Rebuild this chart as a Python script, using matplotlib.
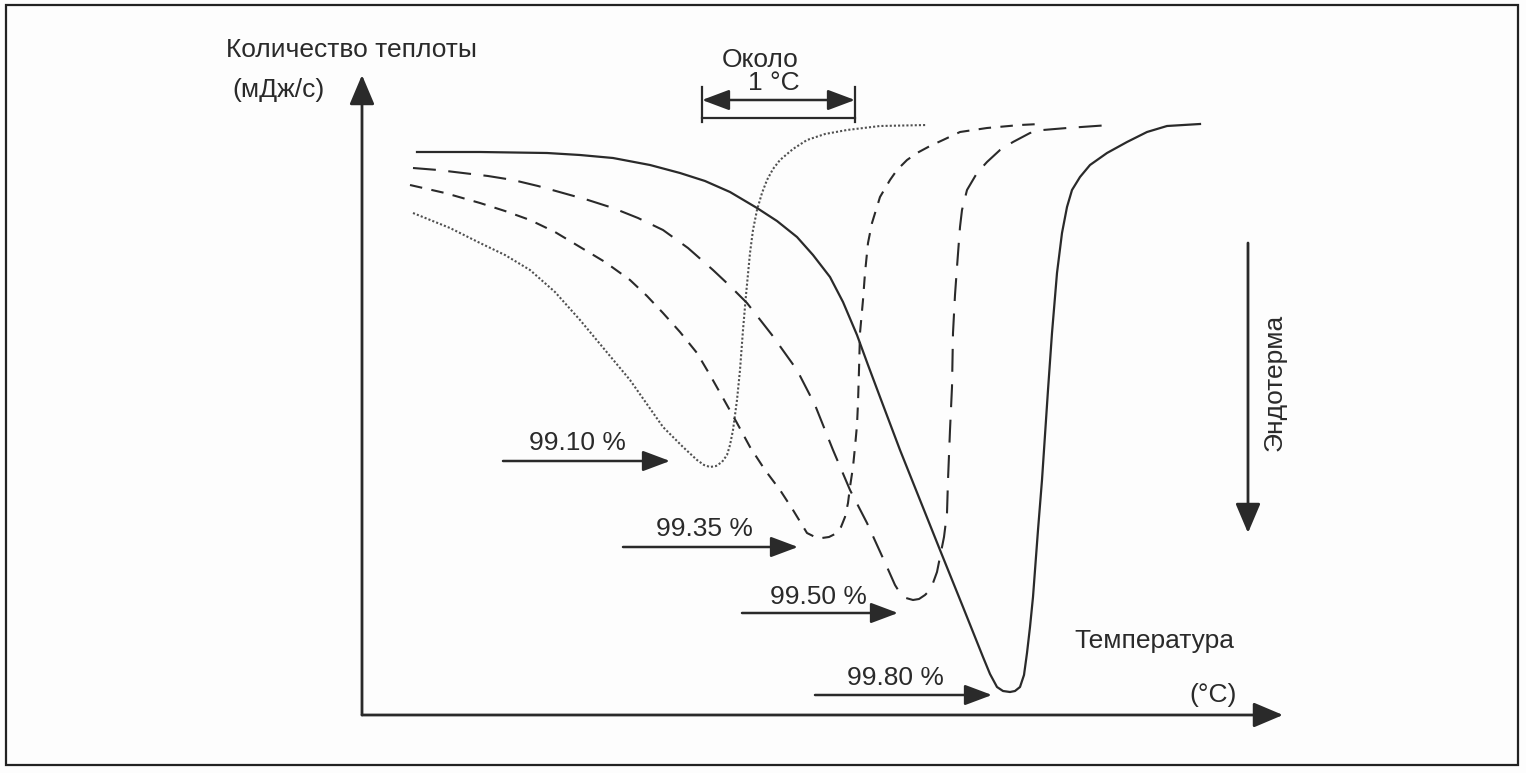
import matplotlib
matplotlib.use("Agg")
import matplotlib.pyplot as plt
from matplotlib.patches import Rectangle

plt.rcParams['font.family'] = ['Liberation Sans', 'DejaVu Sans']

# schematic DSC melting curves (arbitrary units: temperature, heat flow)
t_9910 = [5.1, 8.8, 11.8, 14.3, 16.8, 19.3, 21.8, 24.3, 26.8, 30.1,
          32.1, 33.5, 34.2, 34.8, 35.4, 36.0, 36.5, 36.8, 37.1, 37.5,
          37.8, 38.1, 38.4, 38.8, 39.1, 39.5, 40.0, 40.5, 41.1, 41.8,
          43.1, 44.5, 46.3, 48.5, 51.8, 56.5]
q_9910 = [50.2, 48.7, 47.2, 46.0, 44.5, 42.3, 39.5, 36.5, 33.5, 28.8,
          26.8, 25.5, 25.0, 24.8, 24.9, 25.3, 26.0, 27.0, 28.5, 31.5,
          34.5, 38.5, 42.0, 46.2, 48.5, 50.5, 52.2, 53.5, 54.6, 55.5,
          56.6, 57.5, 58.1, 58.5, 58.9, 59.0]

t_9935 = [4.8, 8.3, 11.8, 14.3, 16.8, 19.3, 21.8, 24.3, 26.8, 28.5,
          30.1, 31.8, 33.5, 34.8, 36.1, 37.5, 38.8, 40.3, 41.8, 43.1,
          44.5, 45.3, 46.0, 46.7, 47.3, 47.9, 48.3, 48.6, 48.8, 49.1,
          49.3, 49.5, 49.6, 49.7, 49.8, 50.1, 50.3, 50.6, 51.0, 51.8,
          52.8, 53.5, 54.5, 55.5, 56.8, 58.1, 59.8, 62.5, 65.8, 67.8]
q_9935 = [53.0, 52.2, 51.2, 50.4, 49.5, 48.3, 46.8, 45.3, 43.5, 41.9,
          40.2, 38.3, 36.2, 34.0, 31.7, 29.2, 26.8, 24.5, 22.5, 20.5,
          18.2, 17.8, 17.7, 17.8, 18.1, 18.8, 19.8, 21.2, 22.8, 24.8,
          26.8, 29.0, 31.2, 34.5, 38.2, 41.5, 44.2, 47.2, 49.2, 51.8,
          53.5, 54.5, 55.5, 56.2, 56.9, 57.5, 58.3, 58.7, 59.0, 59.1]

t_9950 = [5.1, 7.6, 10.1, 12.6, 15.1, 17.6, 20.1, 22.6, 25.1, 27.6,
          30.1, 32.6, 35.1, 36.8, 38.5, 41.0, 43.5, 45.3, 47.1, 48.8,
          50.5, 51.5, 52.5, 53.3, 53.8, 54.4, 55.1, 55.7, 56.3, 56.8,
          57.1, 57.5, 57.8, 58.2, 58.5, 58.6, 58.8, 59.0, 59.1, 59.3,
          59.5, 59.8, 60.0, 60.5, 61.5, 62.5, 63.8, 65.1, 66.8, 68.1,
          70.5, 74.8]
q_9950 = [54.7, 54.5, 54.2, 53.9, 53.5, 52.9, 52.2, 51.5, 50.7, 49.7,
          48.5, 46.7, 44.5, 42.9, 41.2, 38.0, 34.5, 31.0, 26.5, 22.5,
          19.2, 17.0, 14.8, 13.0, 12.2, 11.7, 11.5, 11.6, 12.0, 12.5,
          13.2, 14.3, 15.8, 17.8, 20.2, 23.5, 28.5, 32.8, 38.2, 42.0,
          44.8, 48.8, 50.5, 52.5, 54.2, 55.3, 56.5, 57.3, 58.2, 58.5,
          58.7, 59.0]

t_9980 = [5.5, 11.8, 18.5, 21.8, 25.1, 28.8, 31.8, 34.3, 36.8, 39.5,
          41.5, 43.5, 45.1, 46.8, 48.1, 49.5, 50.6, 51.8, 53.8, 55.8,
          57.8, 60.1, 61.3, 62.1, 62.8, 63.5, 64.1, 64.8, 65.3, 65.8,
          66.2, 66.5, 66.8, 67.1, 67.6, 68.0, 68.6, 69.0, 69.5, 70.0,
          70.5, 71.0, 71.8, 72.8, 74.5, 76.5, 78.5, 80.5, 83.8]
q_9980 = [56.3, 56.3, 56.2, 56.0, 55.7, 55.0, 54.2, 53.4, 52.3, 50.7,
          49.4, 47.8, 46.0, 43.8, 41.3, 38.0, 35.0, 31.8, 26.5, 21.5,
          16.5, 10.8, 7.8, 5.8, 4.1, 2.8, 2.4, 2.3, 2.4, 2.8,
          4.0, 6.2, 8.8, 11.8, 18.5, 23.5, 32.5, 38.2, 44.2, 48.2,
          50.8, 52.5, 53.8, 55.0, 56.2, 57.3, 58.3, 58.9, 59.1]

purity_labels = ["99.10 %", "99.35 %", "99.50 %", "99.80 %"]

fig = plt.figure(figsize=(15.26, 7.73), dpi=100)
fig.patch.set_facecolor("#fdfdfd")
ax = fig.add_axes([0, 0, 1, 1])
ax.set_xlim(-36.2, 116.4)
ax.set_ylim(-5.8, 71.5)
ax.axis("off")

fig.patches.append(Rectangle((6 / 1526, 1 - 765 / 773), 1512 / 1526, 760 / 773,
                             transform=fig.transFigure, fill=False, ec="#222222", lw=1.6))

ink = "#2a2a2a"
ax.plot(t_9910, q_9910, color="#505050", lw=1.5, linestyle=(0, (1.0, 1.0)))
ax.plot(t_9935, q_9935, color=ink, lw=1.5, linestyle=(0, (6, 4.5)))
ax.plot(t_9950, q_9950, color=ink, lw=1.5, linestyle=(0, (11, 6)))
ax.plot(t_9980, q_9980, color=ink, lw=1.6)

# axes arrows
big_head = dict(arrowstyle="-|>,head_length=1.3,head_width=0.55", color=ink, lw=2,
                mutation_scale=14, shrinkA=0, shrinkB=0)
ax.annotate("", xy=(0, 64.0), xytext=(0, 0), arrowprops=big_head)
ax.annotate("", xy=(92.1, 0), xytext=(0, 0), arrowprops=big_head)
ax.annotate("", xy=(88.6, 18.2), xytext=(88.6, 47.2), arrowprops=big_head)

# "about 1 °C" bracket
ax.plot([34.0, 34.0], [59.3, 62.8], color=ink, lw=1.6)
ax.plot([49.3, 49.3], [59.3, 62.8], color=ink, lw=1.6)
ax.plot([34.0, 49.3], [59.7, 59.7], color=ink, lw=1.6)
ax.annotate("", xy=(34.0, 61.5), xytext=(49.3, 61.5),
            arrowprops=dict(arrowstyle="<|-|>,head_length=1.2,head_width=0.45", color=ink,
                            lw=1.8, mutation_scale=14, shrinkA=0, shrinkB=0))

# purity labels
label_arrows = [(14.1, 30.8, 25.4), (26.1, 43.6, 16.8), (38.0, 53.6, 10.2), (45.3, 63.0, 2.0)]
label_text = [(21.5, 27.2), (34.2, 18.6), (45.6, 11.8), (53.3, 3.7)]
small_head = dict(arrowstyle="-|>,head_length=1.2,head_width=0.45", color=ink, lw=1.8,
                  mutation_scale=14, shrinkA=0, shrinkB=0)
fs = 19
for lab, (x0, x1, y), (tx, ty) in zip(purity_labels, label_arrows, label_text):
    ax.annotate("", xy=(x1, y), xytext=(x0, y), arrowprops=small_head)
    ax.text(tx, ty, lab, ha="center", va="center", fontsize=fs, color=ink)

ax.text(-1.0, 66.5, "Количество теплоты", ha="center", va="center", fontsize=fs, color=ink)
ax.text(-8.3, 62.5, "(мДж/с)", ha="center", va="center", fontsize=fs, color=ink)
ax.text(39.8, 65.5, "Около", ha="center", va="center", fontsize=fs, color=ink)
ax.text(41.2, 63.2, "1 °C", ha="center", va="center", fontsize=fs, color=ink)
ax.text(79.2, 7.4, "Температура", ha="center", va="center", fontsize=fs, color=ink)
ax.text(85.1, 2.0, "(°C)", ha="center", va="center", fontsize=fs, color=ink)
ax.text(91.3, 33.3, "Эндотерма", ha="center", va="center", fontsize=fs, color=ink, rotation=90)

fig.savefig("out.png", dpi=100, facecolor=fig.get_facecolor())
